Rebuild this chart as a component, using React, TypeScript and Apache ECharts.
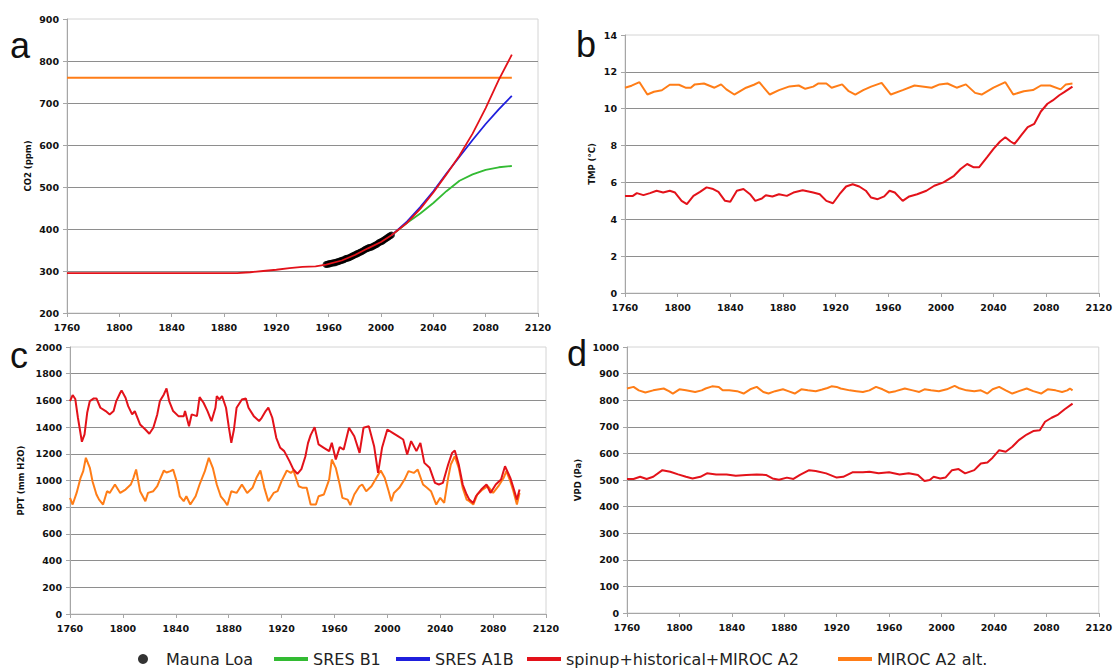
import React, { useEffect, useRef } from "react";
import * as echarts from "echarts";

// ---------- names ----------
const MAUNA = "Mauna Loa";
const B1 = "SRES B1";
const A1B = "SRES A1B";
const A2 = "spinup+historical+MIROC A2";
const ALT = "MIROC A2 alt.";

// ---------- panel a: CO2 (ppm) ----------
const co2A2Years = [1760, 1800, 1850, 1890, 1900, 1910, 1920, 1930, 1940, 1950, 1958, 1970, 1980, 1990, 2000, 2008, 2020, 2030, 2040, 2050, 2060, 2070, 2080, 2090, 2100];
const co2A2 = [295, 295, 295, 295, 297, 300, 303, 307, 310, 311, 315, 325, 338, 354, 369, 385, 415, 448, 487, 530, 575, 627, 688, 755, 815];
const co2FutYears = [2008, 2020, 2030, 2040, 2050, 2060, 2070, 2080, 2090, 2100];
const co2A1B = [385, 418, 452, 490, 532, 572, 612, 650, 685, 717];
const co2B1 = [385, 415, 437, 462, 490, 515, 530, 541, 547, 550];
const co2AltYears = [1760, 2100];
const co2Alt = [760, 760];
const maunaYears = [1958, 1959, 1960, 1961, 1962, 1963, 1964, 1965, 1966, 1967, 1968, 1969, 1970, 1971, 1972, 1973, 1974, 1975, 1976, 1977, 1978, 1979, 1980, 1981, 1982, 1983, 1984, 1985, 1986, 1987, 1988, 1989, 1990, 1991, 1992, 1993, 1994, 1995, 1996, 1997, 1998, 1999, 2000, 2001, 2002, 2003, 2004, 2005, 2006, 2007, 2008];
const maunaCo2 = [315.3, 316.0, 316.9, 317.6, 318.5, 319.0, 319.6, 320.0, 321.4, 322.2, 323.0, 324.6, 325.7, 326.3, 327.5, 329.7, 330.2, 331.1, 332.0, 333.8, 335.4, 336.8, 338.7, 340.1, 341.4, 343.0, 344.6, 346.0, 347.4, 349.2, 351.6, 353.1, 354.4, 355.6, 356.5, 357.1, 358.9, 360.9, 362.6, 363.8, 366.6, 368.3, 369.5, 371.1, 373.2, 375.8, 377.5, 379.8, 381.9, 383.8, 385.6];

// ---------- panel b: TMP (°C) ----------
const tmpA2Years = [1760, 1766, 1769, 1774, 1779, 1784, 1789, 1794, 1798, 1803, 1807, 1812, 1817, 1822, 1827, 1831, 1836, 1840, 1845, 1850, 1855, 1859, 1864, 1867, 1872, 1877, 1883, 1888, 1895, 1903, 1908, 1913, 1918, 1923, 1928, 1933, 1938, 1943, 1947, 1952, 1957, 1961, 1965, 1971, 1976, 1982, 1989, 1995, 2002, 2010, 2015, 2020, 2025, 2029, 2035, 2040, 2045, 2049, 2053, 2056, 2061, 2066, 2071, 2076, 2081, 2085, 2090, 2094, 2100];
const tmpA2 = [5.27, 5.27, 5.42, 5.31, 5.42, 5.55, 5.45, 5.55, 5.45, 5.0, 4.82, 5.27, 5.49, 5.73, 5.64, 5.49, 5.0, 4.95, 5.55, 5.64, 5.36, 5.0, 5.13, 5.31, 5.24, 5.36, 5.27, 5.45, 5.58, 5.45, 5.36, 5.0, 4.87, 5.36, 5.78, 5.9, 5.78, 5.55, 5.18, 5.09, 5.24, 5.55, 5.45, 5.0, 5.24, 5.36, 5.55, 5.82, 6.0, 6.36, 6.73, 7.0, 6.82, 6.82, 7.36, 7.82, 8.22, 8.45, 8.22, 8.09, 8.55, 9.0, 9.18, 9.85, 10.27, 10.45, 10.73, 10.91, 11.2];
const tmpAltYears = [1760, 1765, 1771, 1777, 1782, 1788, 1794, 1801, 1806, 1810, 1813, 1820, 1828, 1833, 1837, 1843, 1852, 1858, 1862, 1870, 1877, 1885, 1892, 1897, 1903, 1907, 1913, 1917, 1925, 1930, 1935, 1941, 1947, 1955, 1962, 1971, 1980, 1993, 1999, 2005, 2012, 2019, 2026, 2031, 2040, 2049, 2055, 2063, 2070, 2076, 2083, 2091, 2095, 2100];
const tmpAlt = [11.14, 11.25, 11.44, 10.77, 10.92, 11.0, 11.3, 11.3, 11.14, 11.14, 11.32, 11.37, 11.14, 11.32, 11.05, 10.77, 11.14, 11.3, 11.44, 10.77, 11.01, 11.21, 11.26, 11.08, 11.2, 11.37, 11.37, 11.14, 11.32, 10.95, 10.77, 11.01, 11.2, 11.4, 10.77, 11.01, 11.26, 11.14, 11.32, 11.37, 11.14, 11.32, 10.86, 10.77, 11.14, 11.44, 10.77, 10.95, 11.01, 11.26, 11.26, 11.05, 11.32, 11.37];

// ---------- panel c: PPT (mm H2O) ----------
const pptA2Years = [1760, 1762, 1764, 1766, 1769, 1771, 1773, 1775, 1778, 1780, 1783, 1787, 1790, 1793, 1795, 1798, 1799, 1802, 1804, 1807, 1809, 1813, 1817, 1820, 1823, 1826, 1828, 1831, 1833, 1835, 1838, 1842, 1846, 1847, 1850, 1852, 1856, 1858, 1861, 1864, 1867, 1870, 1871, 1873, 1875, 1878, 1880, 1882, 1884, 1886, 1890, 1893, 1895, 1899, 1903, 1905, 1908, 1910, 1913, 1916, 1919, 1922, 1926, 1929, 1932, 1935, 1938, 1940, 1942, 1945, 1948, 1952, 1956, 1958, 1961, 1964, 1967, 1971, 1975, 1979, 1982, 1986, 1990, 1993, 1996, 2000, 2004, 2008, 2012, 2015, 2018, 2022, 2025, 2028, 2032, 2036, 2039, 2042, 2046, 2049, 2051, 2054, 2057, 2060, 2062, 2065, 2067, 2071, 2075, 2078, 2082, 2086, 2089, 2093, 2095, 2098, 2100];
const pptA2 = [1595, 1640, 1610, 1470, 1290, 1345, 1507, 1595, 1615, 1615, 1545, 1520, 1495, 1520, 1595, 1657, 1675, 1620, 1557, 1495, 1520, 1420, 1382, 1350, 1395, 1495, 1595, 1645, 1690, 1595, 1520, 1482, 1482, 1520, 1407, 1495, 1482, 1625, 1582, 1520, 1445, 1545, 1632, 1607, 1632, 1545, 1407, 1282, 1382, 1545, 1607, 1615, 1545, 1482, 1445, 1470, 1520, 1545, 1470, 1320, 1245, 1220, 1145, 1082, 1050, 1085, 1180, 1280, 1340, 1400, 1270, 1245, 1220, 1282, 1157, 1250, 1232, 1395, 1332, 1207, 1395, 1407, 1257, 1057, 1245, 1382, 1357, 1332, 1307, 1195, 1295, 1220, 1282, 1132, 1095, 982, 970, 982, 1120, 1207, 1225, 1120, 970, 895, 857, 832, 882, 932, 970, 907, 970, 1007, 1107, 1020, 957, 857, 932];
const pptAltYears = [1760, 1762, 1765, 1768, 1770, 1772, 1775, 1777, 1780, 1782, 1785, 1788, 1790, 1794, 1798, 1802, 1806, 1808, 1810, 1813, 1817, 1819, 1823, 1826, 1828, 1831, 1833, 1836, 1838, 1841, 1843, 1846, 1848, 1851, 1855, 1858, 1862, 1865, 1868, 1871, 1874, 1877, 1879, 1882, 1886, 1890, 1894, 1898, 1901, 1904, 1907, 1910, 1914, 1917, 1920, 1924, 1927, 1929, 1933, 1936, 1939, 1942, 1946, 1948, 1952, 1956, 1958, 1961, 1964, 1966, 1970, 1972, 1975, 1979, 1981, 1984, 1988, 1991, 1995, 1998, 2001, 2003, 2005, 2009, 2013, 2016, 2020, 2023, 2027, 2030, 2033, 2037, 2040, 2043, 2046, 2048, 2051, 2054, 2057, 2060, 2062, 2065, 2068, 2072, 2076, 2080, 2084, 2088, 2090, 2093, 2095, 2098, 2100];
const pptAlt = [870, 820, 907, 1020, 1070, 1170, 1095, 995, 895, 857, 820, 920, 907, 970, 907, 932, 970, 1020, 1082, 920, 845, 907, 920, 957, 1007, 1075, 1060, 1070, 1082, 982, 882, 845, 882, 820, 882, 970, 1070, 1170, 1095, 970, 882, 845, 815, 920, 907, 970, 907, 945, 1020, 1075, 945, 845, 907, 920, 995, 1075, 1057, 1075, 957, 945, 945, 820, 820, 882, 895, 1007, 1157, 1095, 970, 870, 857, 815, 895, 957, 970, 920, 957, 1007, 1075, 1020, 920, 845, 907, 945, 1007, 1070, 1057, 1082, 970, 945, 920, 820, 870, 832, 1020, 1120, 1182, 1095, 945, 857, 845, 820, 895, 932, 957, 907, 957, 1020, 1070, 995, 932, 820, 907];

// ---------- panel d: VPD (Pa) ----------
const vpdA2Years = [1760, 1765, 1770, 1775, 1780, 1787, 1793, 1799, 1805, 1810, 1816, 1821, 1828, 1836, 1843, 1851, 1859, 1866, 1871, 1876, 1882, 1887, 1892, 1899, 1904, 1912, 1920, 1925, 1932, 1940, 1945, 1952, 1960, 1968, 1975, 1982, 1987, 1991, 1994, 1999, 2003, 2008, 2013, 2018, 2025, 2030, 2035, 2039, 2044, 2049, 2054, 2059, 2065, 2070, 2075, 2079, 2084, 2089, 2094, 2100];
const vpdA2 = [504, 504, 512, 504, 512, 537, 531, 521, 512, 506, 512, 525, 521, 521, 516, 519, 521, 519, 506, 501, 509, 504, 519, 537, 534, 525, 509, 512, 529, 529, 531, 525, 529, 521, 525, 519, 496, 500, 512, 506, 509, 537, 541, 525, 537, 562, 566, 584, 612, 606, 625, 650, 671, 684, 687, 719, 734, 746, 766, 787];
const vpdAltYears = [1760, 1765, 1769, 1774, 1780, 1788, 1792, 1795, 1800, 1805, 1812, 1817, 1820, 1825, 1830, 1833, 1838, 1844, 1849, 1854, 1859, 1864, 1868, 1873, 1879, 1883, 1888, 1893, 1898, 1904, 1909, 1913, 1916, 1920, 1923, 1930, 1935, 1940, 1945, 1950, 1955, 1960, 1965, 1972, 1978, 1983, 1987, 1992, 1998, 2004, 2010, 2013, 2019, 2025, 2030, 2035, 2039, 2044, 2049, 2054, 2059, 2065, 2070, 2076, 2081, 2087, 2092, 2096, 2098, 2100];
const vpdAlt = [844, 850, 837, 829, 837, 844, 834, 825, 841, 837, 831, 837, 844, 852, 850, 837, 837, 834, 825, 841, 850, 831, 825, 834, 841, 834, 825, 841, 837, 834, 840, 846, 852, 850, 844, 837, 834, 831, 837, 850, 841, 829, 834, 844, 837, 831, 841, 837, 834, 841, 854, 846, 837, 834, 837, 825, 841, 850, 837, 825, 834, 844, 834, 825, 841, 837, 831, 837, 844, 837];

// ---------- colours ----------
const RED = "#e3121a";
const ORANGE = "#ff7d17";
const GREEN = "#33bb33";
const BLUE = "#1f1fdd";

const pairs = (xs: number[], ys: number[]) => xs.map((x, i) => [x, ys[i]]);

const TICK_FONT = { color: "#111", fontWeight: "bold" as const, fontSize: 9.5, fontFamily: "DejaVu Sans" };
const plain = (v: number) => String(v);

export default function App() {
  const ref = useRef<HTMLDivElement>(null);

  useEffect(() => {
    document.body.style.margin = "0";
    const chart = echarts.init(ref.current!, undefined, { renderer: "svg" });

    const grids = [
      { left: 67, top: 19, width: 471, height: 294 },
      { left: 625, top: 35, width: 475, height: 258 },
      { left: 70, top: 347, width: 476, height: 267 },
      { left: 627, top: 347, width: 474, height: 266 },
    ];
    const yDefs = [
      { min: 200, max: 900, interval: 100, name: "CO2 (ppm)", nameGap: 35 },
      { min: 0, max: 14, interval: 2, name: "TMP (°C)", nameGap: 29 },
      { min: 0, max: 2000, interval: 200, name: "PPT (mm H2O)", nameGap: 45 },
      { min: 0, max: 1000, interval: 100, name: "VPD (Pa)", nameGap: 45 },
    ];

    const line = (name: string, color: string, idx: number, data: number[][], width = 2) => ({
      type: "line",
      name,
      xAxisIndex: idx,
      yAxisIndex: idx,
      data,
      symbol: "none",
      showSymbol: false,
      lineStyle: { color, width },
      itemStyle: { color },
      silent: true,
    });

    const legendItem = (name: string, left: number, icon: string, w: number, h: number) => ({
      data: [name],
      left,
      top: 651,
      padding: 0,
      icon,
      itemWidth: w,
      itemHeight: h,
      selectedMode: false,
      textStyle: { fontSize: 16, fontFamily: "DejaVu Sans", color: "#222" },
    });

    const letter = (t: string, x: number, y: number) => ({
      type: "text",
      x,
      y,
      style: { text: t, fontSize: 36, fontFamily: "Liberation Sans", fill: "#111", textAlign: "left", textVerticalAlign: "middle" },
    });

    const option = {
      animation: false,
      backgroundColor: "#ffffff",
      grid: grids.map((g) => ({ ...g, show: true, borderColor: "#d4d4d4", borderWidth: 1, backgroundColor: "transparent" })),
      xAxis: grids.map((_, i) => ({
        type: "value",
        gridIndex: i,
        min: 1760,
        max: 2120,
        interval: 40,
        axisLine: { show: true, lineStyle: { color: "#a6a6a6", width: 1 } },
        axisTick: { show: true, length: 4, lineStyle: { color: "#a6a6a6" } },
        splitLine: { show: false },
        axisLabel: { ...TICK_FONT, margin: 9, formatter: plain },
      })),
      yAxis: yDefs.map((d, i) => ({
        type: "value",
        gridIndex: i,
        min: d.min,
        max: d.max,
        interval: d.interval,
        name: d.name,
        nameLocation: "middle",
        nameGap: d.nameGap,
        nameTextStyle: { ...TICK_FONT, fontSize: 8.5 },
        axisLine: { show: true, lineStyle: { color: "#a6a6a6", width: 1 } },
        axisTick: { show: true, length: 4, lineStyle: { color: "#a6a6a6" } },
        splitLine: { show: true, showMinLine: false, showMaxLine: false, lineStyle: { color: "#8e8e8e", width: 1 } },
        axisLabel: { ...TICK_FONT, margin: 8, formatter: plain },
      })),
      legend: [
        legendItem(MAUNA, 138, "circle", 36, 10),
        legendItem(B1, 274, "rect", 34, 4),
        legendItem(A1B, 396, "rect", 34, 4),
        legendItem(A2, 527, "rect", 34, 4),
        legendItem(ALT, 838, "rect", 34, 4),
      ],
      graphic: [letter("a", 10, 45), letter("b", 576, 44), letter("c", 10, 355), letter("d", 567, 353)],
      series: [
        line(ALT, ORANGE, 0, pairs(co2AltYears, co2Alt), 2),
        line(B1, GREEN, 0, pairs(co2FutYears, co2B1), 1.8),
        line(A1B, BLUE, 0, pairs(co2FutYears, co2A1B), 1.8),
        line(A2, RED, 0, pairs(co2A2Years, co2A2), 1.8),
        {
          type: "scatter",
          name: MAUNA,
          xAxisIndex: 0,
          yAxisIndex: 0,
          data: pairs(maunaYears, maunaCo2),
          symbol: "circle",
          symbolSize: 7,
          itemStyle: { color: "#000" },
          silent: true,
        },
        line(ALT, ORANGE, 1, pairs(tmpAltYears, tmpAlt)),
        line(A2, RED, 1, pairs(tmpA2Years, tmpA2)),
        line(ALT, ORANGE, 2, pairs(pptAltYears, pptAlt)),
        line(A2, RED, 2, pairs(pptA2Years, pptA2)),
        line(ALT, ORANGE, 3, pairs(vpdAltYears, vpdAlt)),
        line(A2, RED, 3, pairs(vpdA2Years, vpdA2)),
      ],
    };

    chart.setOption(option as any);
    return () => chart.dispose();
  }, []);

  return <div ref={ref} style={{ width: 1115, height: 668 }} />;
}
